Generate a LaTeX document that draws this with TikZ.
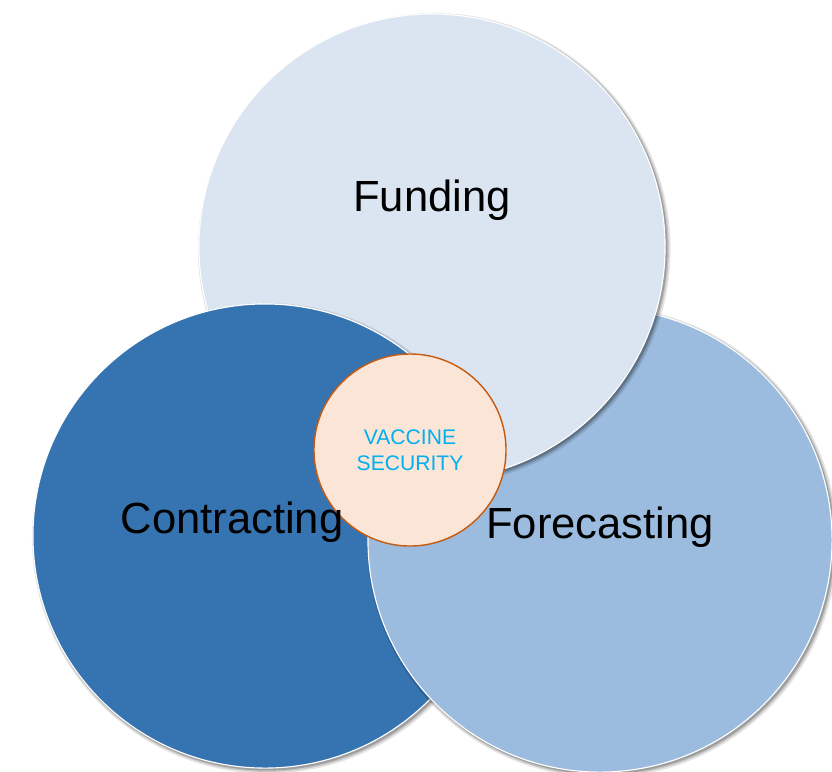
\documentclass[tikz,border=0pt]{standalone}
\usepackage{fontspec}
\setmainfont{Liberation Sans}
\usetikzlibrary{shadows}

\definecolor{fundblue}{HTML}{DAE5F1}
\definecolor{contrblue}{HTML}{3674B1}
\definecolor{foreblue}{HTML}{9BBCDF}
\definecolor{vaccfill}{HTML}{FBE5D6}
\definecolor{vaccline}{HTML}{C55A11}
\definecolor{vacctext}{HTML}{00B0F0}

\tikzset{
	softshadow/.style={
		drop shadow={shadow xshift=1.6pt, shadow yshift=-1.6pt, shadow scale=1.014, opacity=0.10, fill=black},
		drop shadow={shadow xshift=1.4pt, shadow yshift=-1.4pt, shadow scale=1.008, opacity=0.14, fill=black},
		drop shadow={shadow xshift=1.2pt, shadow yshift=-1.2pt, shadow scale=1.003, opacity=0.20, fill=black}},
	disc/.style={circle, draw=white, line width=0.8pt, inner sep=0pt, minimum size=11.6cm},
	ring/.style={disc, softshadow},
	biglabel/.style={draw=none, fill=none, text=black, font=\fontsize{31}{37}\selectfont},
	hub/.style={circle, draw=vaccline, fill=vaccfill, line width=1pt, inner sep=0pt,
		minimum size=4.8cm, align=center, text=vacctext, font=\fontsize{15}{18.5}\selectfont},
}

\begin{document}
\begin{tikzpicture}[x=0.025cm, y=-0.025cm]
	\useasboundingbox (0,0) rectangle (832,771);

	\node[ring, fill=contrblue] (co) at (265,536) {};
	\node[ring, fill=foreblue] (fo) at (600,540) {};
	\node[ring, fill=fundblue, minimum size=11.65cm] (fu) at (432,247) {};

	% contracting lies over funding
	\begin{scope}
		\clip (fu.center) circle [radius=246];
		\node[ring, fill=contrblue] (co2) at (co.center) {};
	\end{scope}
	\begin{scope}
		\clip (fu.center) circle [radius=252];
		\node[disc, fill=contrblue] (co3) at (co.center) {};
	\end{scope}

	\node[hub] (vs) at (410,450) {VACCINE\\SECURITY};

	\node[biglabel] (fut) at (432,200) {Funding};
	\node[biglabel] (cot) at (232,522) {Contracting};
	\node[biglabel] (fot) at (600,527) {Forecasting};

\end{tikzpicture}
\end{document}
